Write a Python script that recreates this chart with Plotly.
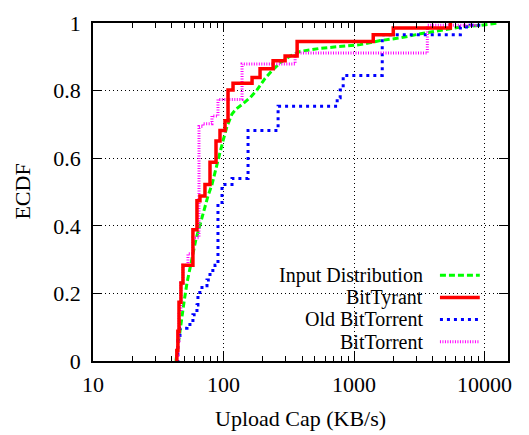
import plotly.graph_objects as go

# ---- data (KB/s, ECDF) ----
input_x = [43.2, 44.7, 47.2, 49.8, 52.5, 55.3, 58.3, 61.5, 66.0, 70.8, 76.0, 81.6, 87.6, 94.0, 99.1,
           106.4, 116.2, 124.7, 138.7, 159.7, 180.7, 208.2, 235.6, 271.4, 323.9, 386.5, 550.4, 783.7,
           1116, 1589, 2262, 3223, 4587, 6533, 9303, 12560]
input_y = [0, .046, .117, .174, .231, .274, .317, .360, .402, .445, .488, .522, .574, .617, .651,
           .694, .731, .745, .759, .779, .802, .836, .859, .882, .902, .916, .925, .931,
           .936, .948, .956, .968, .977, .988, .993, 1.0]

tyrant_x = [43.5, 43.9, 44.7, 45.6, 47.2, 48.9, 58.3, 62.6, 66.0, 72.1, 78.8, 87.6, 94.0, 102.7,
            108.3, 118.3, 165.5, 190.6, 239.9, 296.5, 366.6, 1404, 2000, 5473]
tyrant_y = [0, .031, .088, .174, .231, .283, .388, .474, .488, .522, .588, .651, .682, .711,
            .802, .822, .839, .865, .888, .902, .945, .965, .985, 1.0]

oldbt_x = [43.2, 44.7, 46.4, 52.5, 58.3, 62.6, 63.7, 68.4, 74.7, 78.8, 86.1, 90.7, 97.4, 116.2,
           154.2, 262.0, 743.2, 783.7, 826.3, 1646, 6533, 7796, 9303]
oldbt_y = [0, .060, .097, .108, .137, .166, .203, .223, .240, .268, .283, .460, .522, .540,
           .682, .754, .779, .802, .845, .965, .988, .993, 1.0]

bt_x = [43.2, 43.9, 44.7, 45.6, 47.2, 48.9, 53.4, 58.3, 64.9, 69.6, 81.6, 90.7, 138.7, 353.8, 3646, 8518]
bt_y = [0, .017, .060, .146, .231, .283, .317, .365, .694, .702, .725, .774, .879, .911, .993, 1.0]

series_names = ["Input Distribution", "BitTyrant", "Old BitTorrent", "BitTorrent"]
x_tick_vals = [10, 100, 1000, 10000]
x_tick_text = ["10", "100", "1000", "10000"]
y_tick_vals = [0, 0.2, 0.4, 0.6, 0.8, 1.0]
y_tick_text = ["0", "0.2", "0.4", "0.6", "0.8", "1"]

FONT = "Liberation Serif"
styles = [
    dict(color="#00ff00", width=3, dash="6px,3px"),
    dict(color="#ff0000", width=3.5, dash="solid"),
    dict(color="#0000ff", width=3, dash="3px,4px"),
    dict(color="#ff00ff", width=3, dash="1px,1.5px"),
]

fig = go.Figure()
data = [(input_x, input_y, "linear"), (tyrant_x, tyrant_y, "hv"),
        (oldbt_x, oldbt_y, "hv"), (bt_x, bt_y, "hv")]
# draw order: input, old bt, bt, tyrant on top
order = [0, 2, 3, 1]
for i in order:
    xs, ys, shape = data[i]
    fig.add_trace(go.Scatter(x=xs, y=ys, mode="lines", name=series_names[i],
                             line=dict(shape=shape, **styles[i]), showlegend=False))

minor_vals = [v * m for m in (10, 100, 1000) for v in range(2, 10)]

fig.update_layout(
    width=529, height=435,
    margin=dict(l=93, r=21, t=11, b=74),
    plot_bgcolor="white", paper_bgcolor="white",
    font=dict(family=FONT, size=22, color="black"),
    xaxis=dict(type="log", range=[1, 4.18], tickvals=x_tick_vals, ticktext=x_tick_text,
               ticks="inside", ticklen=9, tickwidth=1, tickcolor="black",
               showline=True, linecolor="black", linewidth=1.5, mirror="allticks",
               showgrid=True, gridcolor="black", gridwidth=1, griddash="1px,3px",
               zeroline=False, ticklabelstandoff=3,
               minor=dict(tickvals=minor_vals, ticks="inside", ticklen=5, tickcolor="black",
                          showgrid=False),
               tickfont=dict(family=FONT, size=22)),
    yaxis=dict(range=[0, 1], tickvals=y_tick_vals, ticktext=y_tick_text,
               ticks="inside", ticklen=9, tickwidth=1, tickcolor="black",
               showline=True, linecolor="black", linewidth=1.5, mirror="allticks",
               showgrid=True, gridcolor="black", gridwidth=1, griddash="1px,3px",
               zeroline=False, ticklabelstandoff=6, tickfont=dict(family=FONT, size=22)),
)

# white key area hides the grid (between grid and traces)
fig.add_shape(type="rect", xref="paper", yref="paper", x0=0.255, x1=0.995, y0=0.003, y1=0.294,
              fillcolor="white", line=dict(width=0), layer="between")

# manual key: text on the left, sample on the right
row_y = [0.254, 0.188, 0.123, 0.057]
for i in range(4):
    fig.add_annotation(x=0.800, y=row_y[i], xref="paper", yref="paper", text=series_names[i],
                       showarrow=False, xanchor="right", yanchor="middle",
                       font=dict(family=FONT, size=20, color="black"))
    fig.add_shape(type="line", xref="paper", yref="paper", x0=0.836, x1=0.932,
                  y0=row_y[i], y1=row_y[i], line=styles[i], layer="above")

fig.add_annotation(x=0.5, y=-0.17, xref="paper", yref="paper", text="Upload Cap (KB/s)",
                   showarrow=False, xanchor="center", yanchor="middle",
                   font=dict(family=FONT, size=22, color="black"))
fig.add_annotation(x=-0.172, y=0.5, xref="paper", yref="paper", text="ECDF", textangle=-90,
                   showarrow=False, xanchor="center", yanchor="middle",
                   font=dict(family=FONT, size=22, color="black"))

fig.write_html("out.html")
